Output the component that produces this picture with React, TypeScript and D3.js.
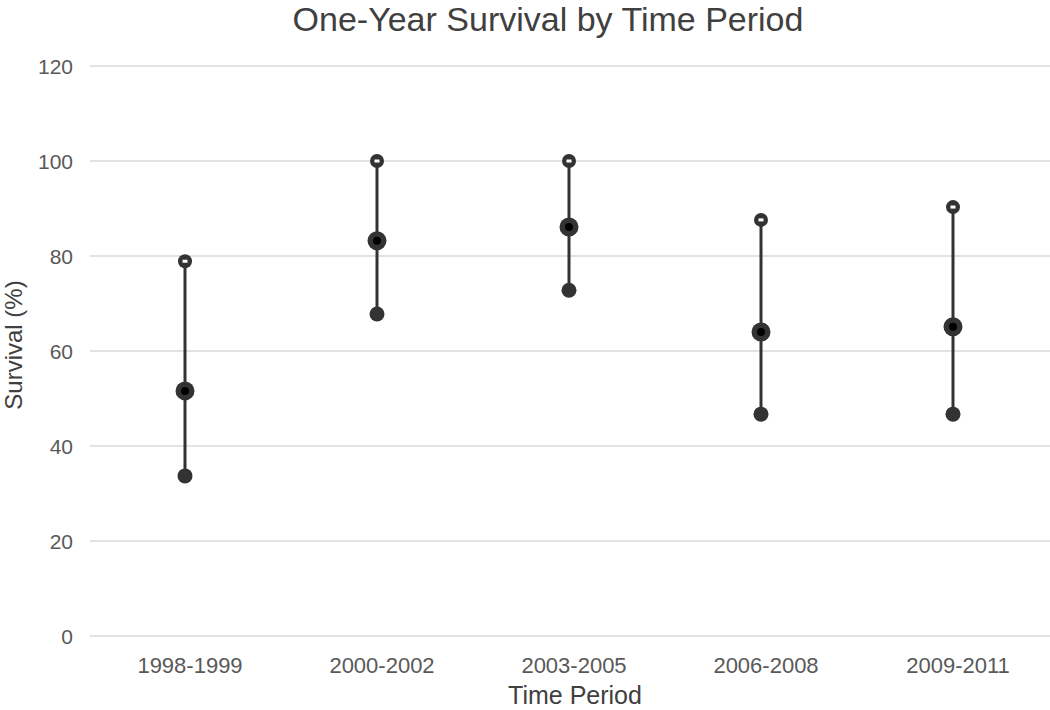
import React from "react";
import * as d3 from "d3";

const categories = ["1998-1999", "2000-2002", "2003-2005", "2006-2008", "2009-2011"];
const highValues = [78.9, 100, 100, 87.6, 90.3];
const midValues = [51.6, 83.2, 86.1, 64.0, 65.1];
const lowValues = [33.7, 67.8, 72.8, 46.7, 46.7];
const yTicks = [0, 20, 40, 60, 80, 100, 120];

const W = 1050;
const H = 710;
const left = 89;
const right = 1049;
const top = 66;
const bottom = 636;
const ink = "#333333";
const font = "'Liberation Sans', Arial, sans-serif";

export default function App() {
  const x = d3.scaleBand<string>().domain(categories).range([left, right]);
  const y = d3.scaleLinear().domain([0, 120]).range([bottom, top]);
  return (
    <svg width={W} height={H} style={{ position: "absolute", left: 0, top: 0, background: "#fff" }}>
      <text x={548} y={31} textAnchor="middle" fontFamily={font} fontSize={34} fill="#404040">
        One-Year Survival by Time Period
      </text>
      {yTicks.map((t) => (
        <g key={t}>
          <line x1={left + 1} x2={right + 1} y1={y(t)} y2={y(t)} stroke="#d9d9d9" strokeWidth={1.3} />
          <text x={73} y={y(t) + 7.5} textAnchor="end" fontFamily={font} fontSize={21} fill="#595959">
            {t}
          </text>
        </g>
      ))}
      <text
        transform={`translate(22,${345}) rotate(-90)`}
        textAnchor="middle"
        fontFamily={font}
        fontSize={24}
        fill="#404040"
      >
        Survival (%)
      </text>
      {categories.map((c) => (
        <text key={c} x={x(c)! + x.bandwidth() / 2 + 5} y={673} textAnchor="middle" fontFamily={font} fontSize={22} fill="#595959">
          {c}
        </text>
      ))}
      <text x={575} y={704} textAnchor="middle" fontFamily={font} fontSize={25} fill="#404040">
        Time Period
      </text>
      {categories.map((c, i) => {
        const cx = x(c)! + x.bandwidth() / 2;
        return (
          <g key={c}>
            <line x1={cx} x2={cx} y1={y(highValues[i])} y2={y(lowValues[i])} stroke={ink} strokeWidth={3} />
            <circle cx={cx} cy={y(highValues[i])} r={7} fill={ink} />
            <rect x={cx - 2.5} y={y(highValues[i]) - 1.5} width={5} height={3} fill="#fff" />
            <circle cx={cx} cy={y(midValues[i])} r={9.5} fill={ink} />
            <circle cx={cx} cy={y(midValues[i])} r={4} fill="#000" />
            <circle cx={cx} cy={y(lowValues[i])} r={7.5} fill={ink} />
          </g>
        );
      })}
    </svg>
  );
}
